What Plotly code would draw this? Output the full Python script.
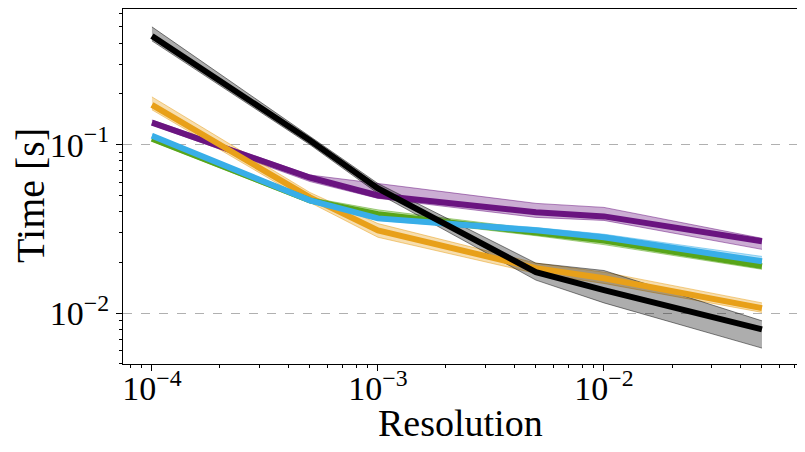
import plotly.graph_objects as go

resolution = [1e-4, 5e-4, 1e-3, 5e-3, 1e-2, 5e-2]

purple_mean = [0.135, 0.0638, 0.0499, 0.0397, 0.0375, 0.0267]
purple_hi = [0.140, 0.066, 0.0588, 0.0448, 0.0424, 0.0278]
purple_lo = [0.131, 0.0604, 0.048, 0.037, 0.0355, 0.0239]

orange_mean = [0.172, 0.0486, 0.031, 0.0185, 0.0161, 0.0107]
orange_hi = [0.192, 0.052, 0.034, 0.0198, 0.0175, 0.0115]
orange_lo = [0.161, 0.0454, 0.0282, 0.0172, 0.0150, 0.0101]

green_mean = [0.1085, 0.0467, 0.0386, 0.0302, 0.027, 0.019]
green_hi = [0.111, 0.0485, 0.0410, 0.0317, 0.0281, 0.0203]
green_lo = [0.105, 0.0450, 0.0370, 0.0288, 0.0255, 0.0182]

blue_mean = [0.113, 0.0467, 0.0365, 0.031, 0.0282, 0.0203]
blue_hi = [0.116, 0.0480, 0.0380, 0.0322, 0.0294, 0.0217]
blue_lo = [0.110, 0.0455, 0.0355, 0.0300, 0.0272, 0.0196]

black_mean = [0.441, 0.106, 0.055, 0.0175, 0.0137, 0.0080]
black_hi = [0.50, 0.112, 0.0588, 0.0198, 0.0179, 0.0090]
black_lo = [0.413, 0.100, 0.0513, 0.0157, 0.0115, 0.0062]

x_tickvals = [1e-4, 1e-3, 1e-2]
x_ticktext = ["10<sup>−4</sup>", "10<sup>−3</sup>", "10<sup>−2</sup>"]
y_tickvals = [1e-2, 1e-1]
y_ticktext = ["10<sup>−2</sup>", "10<sup>−1</sup>"]

series = [
    ("purple", purple_mean, purple_hi, purple_lo, (106, 20, 128), 0.35),
    ("orange", orange_mean, orange_hi, orange_lo, (232, 160, 25), 0.35),
    ("green", green_mean, green_hi, green_lo, (88, 165, 25), 0.35),
    ("blue", blue_mean, blue_hi, blue_lo, (56, 174, 232), 0.35),
    ("black", black_mean, black_hi, black_lo, (0, 0, 0), 0.32),
]

fig = go.Figure()
for name, mean, hi, lo, rgb, a in series:
    r, g, b = rgb
    fig.add_trace(go.Scatter(x=resolution, y=lo, mode="lines",
                             line=dict(color=f"rgba({r},{g},{b},{a + 0.15})", width=1),
                             showlegend=False, hoverinfo="skip"))
    fig.add_trace(go.Scatter(x=resolution, y=hi, mode="lines", fill="tonexty",
                             fillcolor=f"rgba({r},{g},{b},{a})",
                             line=dict(color=f"rgba({r},{g},{b},{a + 0.15})", width=1),
                             showlegend=False, hoverinfo="skip"))
for name, mean, hi, lo, rgb, a in series:
    r, g, b = rgb
    fig.add_trace(go.Scatter(x=resolution, y=mean, mode="lines", name=name,
                             line=dict(color=f"rgb({r},{g},{b})", width=6),
                             showlegend=False))

minor_x = [v * m for v in [1e-5, 1e-4, 1e-3, 1e-2] for m in range(2, 10)]
minor_y = [v * m for v in [1e-3, 1e-2, 1e-1] for m in range(2, 10)]

font = "Liberation Serif, DejaVu Serif, serif"
# page body has an 8px default margin; size the figure to fit the window
fig.update_layout(
    width=797, height=444,
    margin=dict(l=115, r=8, t=1, b=88),
    plot_bgcolor="white", paper_bgcolor="white",
    font=dict(family=font, color="black"),
    showlegend=False,
)
fig.update_xaxes(
    type="log", range=[-4.128, -1.146], automargin=False,
    tickmode="array", tickvals=x_tickvals, ticktext=x_ticktext,
    tickfont=dict(size=34, family=font), ticklabelstandoff=-12,
    ticks="outside", ticklen=6, tickwidth=1, tickcolor="black",
    minor=dict(tickmode="array", tickvals=minor_x, ticks="outside", ticklen=3,
               tickwidth=0.8, tickcolor="black", showgrid=False),
    showline=True, linecolor="black", linewidth=1, mirror=True,
    showgrid=False, zeroline=False,
)
fig.update_yaxes(
    type="log", range=[-2.302, -0.195], automargin=False,
    tickmode="array", tickvals=y_tickvals, ticktext=y_ticktext,
    tickfont=dict(size=34, family=font),
    ticks="outside", ticklen=6, tickwidth=1, tickcolor="black",
    minor=dict(tickmode="array", tickvals=minor_y, ticks="outside", ticklen=3,
               tickwidth=0.8, tickcolor="black", showgrid=False),
    showline=True, linecolor="black", linewidth=1, mirror=True,
    showgrid=True, gridcolor="#b0b0b0", griddash="dash", gridwidth=1,
    zeroline=False,
)
fig.add_annotation(text="Resolution", xref="paper", yref="paper", x=0.5, y=-0.102,
                   xanchor="center", yanchor="top", showarrow=False,
                   font=dict(size=38, family=font, color="black"))
fig.add_annotation(text="Time [s]", xref="paper", yref="paper", x=-0.138, y=0.476,
                   xanchor="center", yanchor="middle", textangle=-90, showarrow=False,
                   font=dict(size=40, family=font, color="black"))
fig.write_html("out.html")
